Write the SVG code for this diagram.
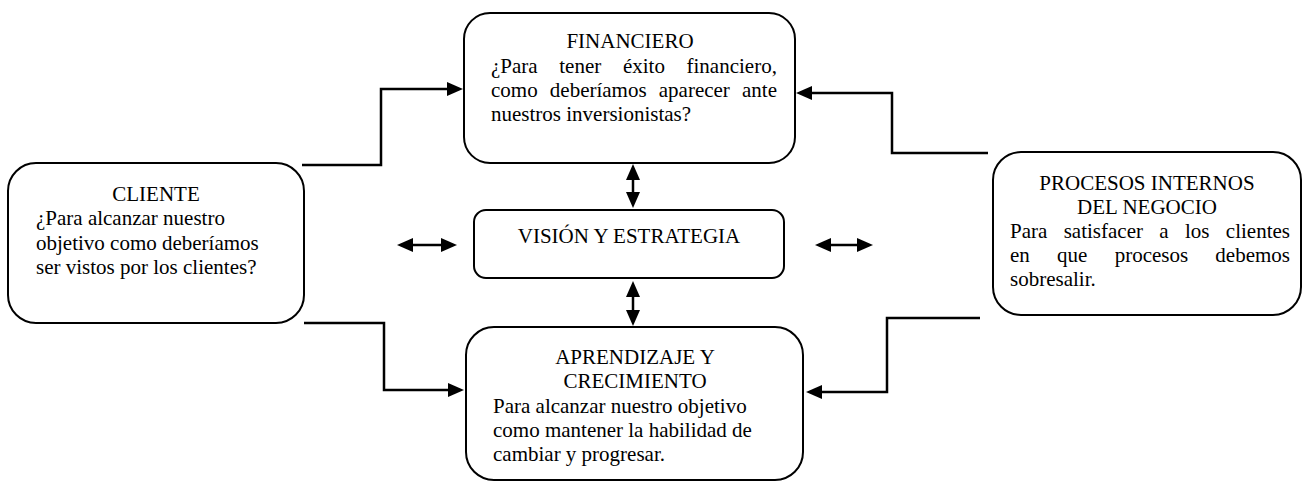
<svg xmlns="http://www.w3.org/2000/svg" width="1308" height="482" viewBox="0 0 1308 482">
<style>
.box{fill:#fff;stroke:#000;stroke-width:2}
.t{font-family:"Liberation Serif","Times New Roman",serif;font-size:21px;fill:#000}
.c{text-anchor:middle}
.con{fill:none;stroke:#000;stroke-width:2.5}
</style>
<defs>
<marker id="ah" markerUnits="userSpaceOnUse" markerWidth="16" markerHeight="14" refX="8" refY="7" orient="auto-start-reverse">
<path d="M0,0 L16,7 L0,14 z" fill="#000"/>
</marker>
</defs>
<rect width="1308" height="482" fill="#fff"/>
<g id="connectors">
<path class="con" d="M302,165 H381 V89 H455" marker-end="url(#ah)"/>
<path class="con" d="M988,153 H892 V93 H804" marker-end="url(#ah)"/>
<path class="con" d="M304,323 H384 V390 H456" marker-end="url(#ah)"/>
<path class="con" d="M980,318 H887 V392 H814" marker-end="url(#ah)"/>
<path class="con" d="M633,172 V200" marker-start="url(#ah)" marker-end="url(#ah)"/>
<path class="con" d="M633,289 V318" marker-start="url(#ah)" marker-end="url(#ah)"/>
<path class="con" d="M405,245 H449" marker-start="url(#ah)" marker-end="url(#ah)"/>
<path class="con" d="M823,245 H865" marker-start="url(#ah)" marker-end="url(#ah)"/>
</g>
<g id="financiero">
<rect class="box" x="464" y="13" width="331" height="150" rx="26"/>
<text class="t c" x="630" y="48">FINANCIERO</text>
<text class="t" x="491" y="73" word-spacing="16.4">¿Para tener éxito financiero,</text>
<text class="t" x="491" y="97" word-spacing="6.9">como deberíamos aparecer ante</text>
<text class="t" x="491" y="121">nuestros inversionistas?</text>
</g>
<g id="cliente">
<rect class="box" x="8" y="163" width="296" height="160" rx="28"/>
<text class="t c" x="156" y="201">CLIENTE</text>
<text class="t" x="36" y="225">¿Para alcanzar nuestro</text>
<text class="t" x="36" y="250">objetivo como deberíamos</text>
<text class="t" x="36" y="274">ser vistos por los clientes?</text>
</g>
<g id="vision">
<rect class="box" x="474" y="210" width="310" height="68" rx="12"/>
<text class="t c" x="629" y="243">VISIÓN Y ESTRATEGIA</text>
</g>
<g id="procesos">
<rect class="box" x="993" y="152" width="308" height="163" rx="28"/>
<text class="t c" x="1147" y="190">PROCESOS INTERNOS</text>
<text class="t c" x="1147" y="214">DEL NEGOCIO</text>
<text class="t" x="1010" y="238" word-spacing="11.1">Para satisfacer a los clientes</text>
<text class="t" x="1010" y="262" word-spacing="22">en que procesos debemos</text>
<text class="t" x="1010" y="286">sobresalir.</text>
</g>
<g id="aprendizaje">
<rect class="box" x="466" y="327" width="337" height="153" rx="28"/>
<text class="t c" x="635" y="364">APRENDIZAJE Y</text>
<text class="t c" x="635" y="388">CRECIMIENTO</text>
<text class="t" x="493" y="413">Para alcanzar nuestro objetivo</text>
<text class="t" x="493" y="437">como mantener la habilidad de</text>
<text class="t" x="493" y="461">cambiar y progresar.</text>
</g>
</svg>
